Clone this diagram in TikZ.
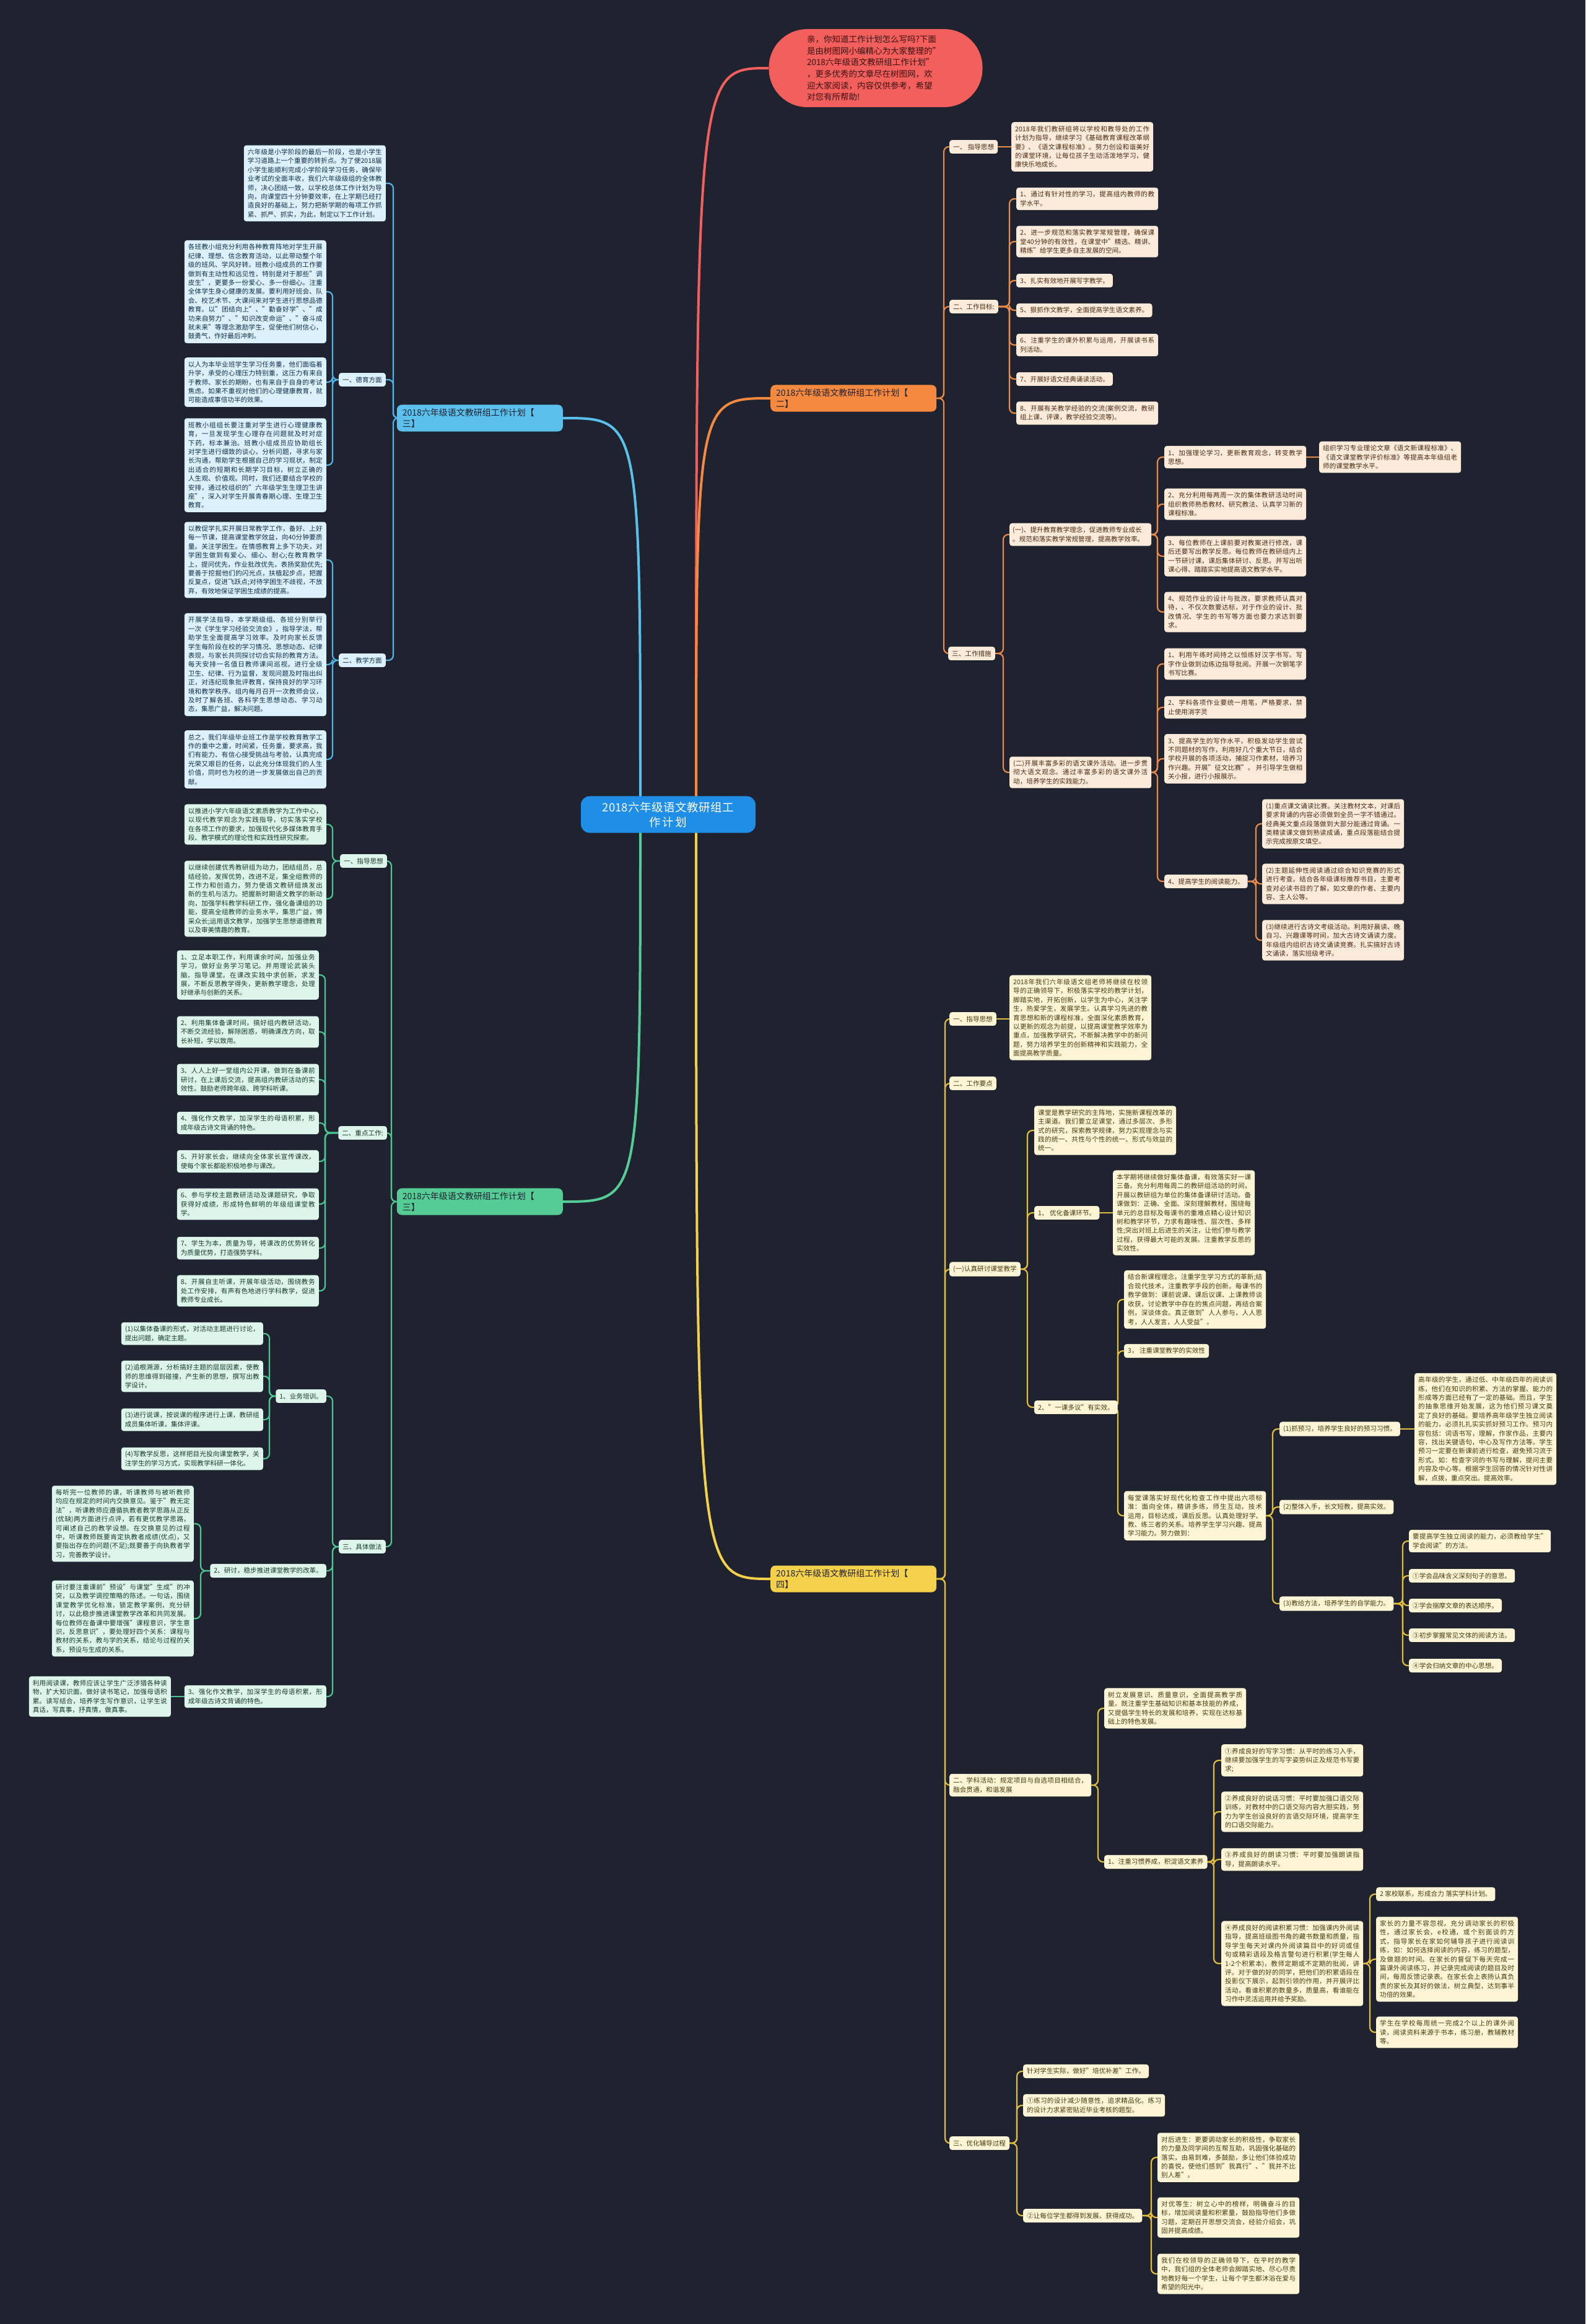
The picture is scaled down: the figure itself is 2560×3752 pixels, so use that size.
\documentclass[tikz,border=0pt]{standalone}
\usepackage{fontspec}
\setmainfont{Noto Sans CJK SC}
\XeTeXlinebreaklocale "zh"
\XeTeXlinebreakskip=0pt plus 1pt
\usetikzlibrary{calc}
\pgfdeclarelayer{bgl}\pgfdeclarelayer{lnl}\pgfsetlayers{bgl,lnl,main}
\definecolor{bgc}{HTML}{1F2330}
\definecolor{redc}{HTML}{F25F5C}
\definecolor{bubtxt}{HTML}{3A1212}
\definecolor{rootc}{HTML}{1E8EE6}
\definecolor{oc}{HTML}{F5893F}\definecolor{of}{HTML}{FCEBDA}\definecolor{ot}{HTML}{4A2A12}\definecolor{ol}{HTML}{EC8A48}
\definecolor{bc}{HTML}{5CC0EC}\definecolor{bf}{HTML}{DCF1FB}\definecolor{bt}{HTML}{0F2E4A}\definecolor{bl}{HTML}{4FB5E6}
\definecolor{gc}{HTML}{55CB95}\definecolor{gf}{HTML}{DDF5EA}\definecolor{gt}{HTML}{173B2B}\definecolor{gl}{HTML}{4CC590}
\definecolor{yc}{HTML}{F5D04A}\definecolor{yf}{HTML}{FDF5D5}\definecolor{yt}{HTML}{473A0E}\definecolor{yl}{HTML}{E3BE3C}
\definecolor{brtxt}{HTML}{1E2230}
\newcommand\myconR[4]{\draw[#1] (#2.east) -- (#2.east -| #3) |- (#4.west);}
\newcommand\myconL[4]{\draw[#1] (#2.west) -- (#2.west -| #3) |- (#4.east);}
\begin{document}
\begin{tikzpicture}[x=1pt,y=-1pt,
  base/.style={font=\fontsize{10.6}{14.4}\selectfont, inner xsep=6pt, inner ysep=6pt, rounded corners=4pt},
  tw/.style={text width=217pt, align=justify},
  oN/.style={base, fill=of, text=ot, anchor=west},
  bN/.style={base, fill=bf, text=bt, anchor=east},
  gN/.style={base, fill=gf, text=gt, anchor=east},
  yN/.style={base, fill=yf, text=yt, anchor=west},
  brN/.style={font=\fontsize{14}{18}\selectfont, text=brtxt, text width=250pt, align=left, inner xsep=9pt, inner ysep=6pt, rounded corners=8pt},
  con/.style={rounded corners=8pt, line width=2.2pt},
  ocon/.style={con, draw=ol}, bcon/.style={con, draw=bl}, gcon/.style={con, draw=gl}, ycon/.style={con, draw=yl},
  mline/.style={line width=4pt}
]
\begin{pgfonlayer}{bgl}
\fill[bgc] (0,0) rectangle (2560,3752);
\end{pgfonlayer}
\useasboundingbox (0,0) rectangle (2560,3752);

% root and bubble
\node[fill=rootc, text=white, font=\fontsize{18.5}{24}\selectfont, rounded corners=14pt, text width=250pt, align=center, inner xsep=16pt, inner ysep=9pt] (root) at (1079,1315) {2018六年级语文教研组工\\作计划};
\node[fill=redc, text=bubtxt, rounded corners=62pt, minimum width=345pt, minimum height=126pt, font=\fontsize{13.5}{18.7}\selectfont, text width=222pt, align=left] (bub) at (1414,110) {亲，你知道工作计划怎么写吗?下面\\是由树图网小编精心为大家整理的"\\2018六年级语文教研组工作计划"\\，更多优秀的文章尽在树图网，欢\\迎大家阅读，内容仅供参考，希望\\对您有所帮助!};

% branch nodes
\node[brN, fill=oc, anchor=west] (oB) at (1244,643) {2018六年级语文教研组工作计划【\\二】};
\node[brN, fill=bc, anchor=east] (bB) at (909,675) {2018六年级语文教研组工作计划【\\三】};
\node[brN, fill=gc, anchor=east] (gB) at (909,1940) {2018六年级语文教研组工作计划【\\三】};
\node[brN, fill=yc, anchor=west] (yB) at (1244,2549) {2018六年级语文教研组工作计划【\\四】};

% ===== ORANGE =====
\node[oN] (o1) at (1533,237) {一、 指导思想};
\node[oN,tw] (o1a) at (1633,237) {2018年我们教研组将以学校和教导处的工作计划为指导，继续学习《基础教育课程改革纲要》、《语文课程标准》。努力创设和谐美好的课堂环境，让每位孩子生动活泼地学习，健康快乐地成长。};
\node[oN] (o2) at (1533,495) {二、工作目标:};
\node[oN,tw] (o2a) at (1641,321) {1、通过有针对性的学习，提高组内教师的教学水平。};
\node[oN,tw] (o2b) at (1641,390) {2、进一步规范和落实教学常规管理，确保课堂40分钟的有效性，在课堂中"精选、精讲、精炼"给学生更多自主发展的空间。};
\node[oN] (o2c) at (1641,453) {3、扎实有效地开展写字教学。};
\node[oN] (o2d) at (1641,501) {5、狠抓作文教学，全面提高学生语文素养。};
\node[oN,tw] (o2e) at (1641,557) {6、注重学生的课外积累与运用，开展读书系列活动。};
\node[oN] (o2f) at (1641,612) {7、开展好语文经典诵读活动。};
\node[oN,tw] (o2g) at (1641,667) {8、开展有关教学经验的交流(案例交流，教研组上课、评课，教学经验交流等)。};
\node[oN] (o3) at (1531,1055) {三、工作措施};
\node[oN,text width=219pt,align=left,inner xsep=5pt] (o3a) at (1630,863) {(一)、提升教育教学理念，促进教师专业成长\\。规范和落实教学常规管理，提高教学效率。};
\node[oN,tw] (o3b) at (1630,1247) {(二)开展丰富多彩的语文课外活动。进一步贯彻大语文观念。通过丰富多彩的语文课外活动，培养学生的实践能力。};
\node[oN,tw] (o3a1) at (1880,738) {1、加强理论学习，更新教育观念，转变教学思想。};
\node[oN,tw] (o3a1x) at (2130,738) {组织学习专业理论文章《语文新课程标准》、《语文课堂教学评价标准》等提高本年级组老师的课堂教学水平。};
\node[oN,tw] (o3a2) at (1880,814) {2、充分利用每两周一次的集体教研活动时间组织教师熟悉教材、研究教法、认真学习新的课程标准。};
\node[oN,tw] (o3a3) at (1880,898) {3、每位教师在上课前要对教案进行修改，课后还要写出教学反思。每位教师在教研组内上一节研讨课，课后集体研讨、反思。并写出听课心得、踏踏实实地提高语文教学水平。};
\node[oN,tw] (o3a4) at (1880,988) {4、规范作业的设计与批改，要求教师认真对待，、不仅次数要达标，对于作业的设计、批改情况、学生的书写等方面也要力求达到要求。};
\node[oN,tw] (o3b1) at (1880,1072) {1、利用午练时间持之以恒练好汉字书写。写字作业做到边练边指导批阅。开展一次钢笔字书写比赛。};
\node[oN,tw] (o3b2) at (1880,1142) {2、学科各项作业要统一用笔，严格要求，禁止使用消字灵};
\node[oN,tw] (o3b3) at (1880,1225) {3、提高学生的写作水平，积极发动学生尝试不同题材的写作，利用好几个重大节日，结合学校开展的各项活动，捕捉习作素材，培养习作兴趣。开展"征文比赛"。 并引导学生做相关小报，进行小报展示。};
\node[oN] (o3b4) at (1880,1423) {4、提高学生的阅读能力。};
\node[oN,tw] (o3b4a) at (2038,1330) {(1)重点课文诵读比赛。关注教材文本，对课后要求背诵的内容必须做到全员一字不错通过。经典美文重点段落做到大部分能通过背诵。一类精读课文做到熟读成诵，重点段落能结合提示完成按原文填空。};
\node[oN,tw] (o3b4b) at (2038,1427) {(2)主题延伸性阅读通过综合知识竞赛的形式进行考查。结合各年级课标推荐书目，主要考查对必读书目的了解，如文章的作者、主要内容、主人公等。};
\node[oN,tw] (o3b4c) at (2038,1518) {(3)继续进行古诗文考级活动。利用好晨读、晚自习、兴趣课等时间，加大古诗文诵读力度。年级组内组织古诗文诵读竞赛。扎实搞好古诗文诵读，落实班级考评。};

% ===== BLUE =====
\node[bN,tw] (b0) at (623,296) {六年级是小学阶段的最后一阶段，也是小学生学习道路上一个重要的转折点。为了使2018届小学生能顺利完成小学阶段学习任务，确保毕业考试的全面丰收，我们六年级级组的全体教师，决心团结一致，以学校总体工作计划为导向，向课堂四十分钟要效率，在上学期已经打造良好的基础上，努力把新学期的每项工作抓紧、抓严、抓实，为此，制定以下工作计划。};
\node[bN] (b1) at (623,613) {一、德育方面};
\node[bN] (b2) at (623,1066) {二、教学方面};
\node[bN,tw] (d1) at (527,471) {各班教小组充分利用各种教育阵地对学生开展纪律、理想、信念教育活动，以此带动整个年级的班风、学风好转。班教小组成员的工作要做到有主动性和远见性，特别是对于那些"调皮生"，更要多一份爱心、多一份细心。注重全体学生身心健康的发展。要利用好班会、队会、校艺术节、大课间来对学生进行思想品德教育。以"团结向上"、"勤奋好学"、"成功来自努力"、"知识改变命运"、"奋斗成就未来"等理念激励学生，促使他们树信心，鼓勇气，作好最后冲刺。};
\node[bN,tw] (d2) at (527,617) {以人为本毕业班学生学习任务重，他们面临着升学，承受的心理压力特别重，这压力有来自于教师、家长的期盼，也有来自于自身的考试焦虑。如果不重视对他们的心理健康教育，就可能造成事倍功半的效果。};
\node[bN,tw] (d3) at (527,751) {班教小组组长要注重对学生进行心理健康教育，一旦发现学生心理存在问题就及时对症下药，标本兼治。班教小组成员应协助组长对学生进行细致的谈心，分析问题，寻求与家长沟通，帮助学生根据自己的学习现状，制定出适合的短期和长期学习目标，树立正确的人生观、价值观。同时，我们还要结合学校的安排，通过校组织的"六年级学生生理卫生讲座"，深入对学生开展青春期心理、生理卫生教育。};
\node[bN,tw] (t1) at (527,904) {以教促学扎实开展日常教学工作，备好、上好每一节课，提高课堂教学效益，向40分钟要质量。关注学困生。在情感教育上多下功夫，对学困生做到有爱心、细心、耐心;在教育教学上，提问优先，作业批改优先，表扬奖励优先;要善于挖掘他们的闪光点，扶植起步点，把握反复点，促进飞跃点;对待学困生不歧视，不放弃，有效地保证学困生成绩的提高。};
\node[bN,tw] (t2) at (527,1073) {开展学法指导，本学期级组、各班分别举行一次《学生学习经验交流会》，指导学法，帮助学生全面提高学习效率。及时向家长反馈学生每阶段在校的学习情况、思想动态、纪律表现，与家长共同探讨切合实际的教育方法。每天安排一名值日教师课间巡视，进行全级卫生、纪律、行为监督，发现问题及时指出纠正，对违纪现象批评教育，保持良好的学习环境和教学秩序。组内每月召开一次教师会议，及时了解各班、各科学生思想动态、学习动态，集思广益，解决问题。};
\node[bN,tw] (t3) at (527,1226) {总之，我们年级毕业班工作是学校教育教学工作的重中之重，时间紧，任务重，要求高，我们有能力、有信心接受挑战与考验，认真完成光荣又艰巨的任务，以此充分体现我们的人生价值，同时也为校的进一步发展做出自己的贡献。};

% ===== GREEN =====
\node[gN] (g1) at (625,1390) {一、指导思想};
\node[gN,tw] (g1a) at (527,1331) {以推进小学六年级语文素质教学为工作中心，以现代教学观念为实践指导，切实落实学校在各项工作的要求，加强现代化多媒体教育手段、教学模式的理论性和实践性研究探索。};
\node[gN,tw] (g1b) at (527,1451) {以继续创建优秀教研组为动力，团结组员，总结经验，发挥优势，改进不足，集全组教师的工作力和创造力，努力使语文教研组焕发出新的生机与活力。把握新时期语文教学的新动向，加强学科教学科研工作，强化备课组的功能，提高全组教师的业务水平，集思广益，博采众长;运用语文教学，加强学生思想道德教育以及审美情趣的教育。};
\node[gN] (g2) at (625,1829) {二、重点工作:};
\node[gN,tw] (k1) at (515,1574) {1、立足本职工作，利用课余时间，加强业务学习，做好业务学习笔记。并用理论武装头脑，指导课堂。在课改实践中求创新，求发展，不断反思教学得失，更新教学理念，处理好继承与创新的关系。};
\node[gN,tw] (k2) at (515,1666) {2、利用集体备课时间，搞好组内教研活动，不断交流经验，解除困惑，明确课改方向，取长补短，学以致用。};
\node[gN,tw] (k3) at (515,1743) {3、人人上好一堂组内公开课，做到在备课前研讨，在上课后交流，提高组内教研活动的实效性。鼓励老师跨年级、跨学科听课。};
\node[gN,tw] (k4) at (515,1813) {4、强化作文教学，加深学生的母语积累，形成年级古诗文背诵的特色。};
\node[gN,tw] (k5) at (515,1875) {5、开好家长会，继续向全体家长宣传课改，使每个家长都能积极地参与课改。};
\node[gN,tw] (k6) at (515,1944) {6、参与学校主题教研活动及课题研究，争取获得好成绩，形成特色鲜明的年级组课堂教学。};
\node[gN,tw] (k7) at (515,2015) {7、学生为本，质量为导，将课改的优势转化为质量优势，打造强势学科。};
\node[gN,tw] (k8) at (515,2084) {8、开展自主听课，开展年级活动，围绕教务处工作安排，有声有色地进行学科教学，促进教师专业成长。};
\node[gN] (g3) at (623,2497) {三、具体做法};
\node[gN] (s1) at (527,2254) {1、业务培训。};
\node[gN,tw] (s1a) at (425,2153) {(1)以集体备课的形式，对活动主题进行讨论，提出问题，确定主题。};
\node[gN,tw] (s1b) at (425,2222) {(2)追根溯源，分析搞好主题的层层因素，使教师的思维得到碰撞，产生新的思想，撰写出教学设计。};
\node[gN,tw] (s1c) at (425,2292) {(3)进行说课，按说课的程序进行上课，教研组成员集体听课，集体评课。};
\node[gN,tw] (s1d) at (425,2355) {(4)写教学反思，这样把目光投向课堂教学，关注学生的学习方式，实现教学科研一体化。};
\node[gN] (s2) at (527,2536) {2、研讨，稳步推进课堂教学的改革。};
\node[gN,tw] (s2a) at (313,2460) {每听完一位教师的课，听课教师与被听教师均应在规定的时间内交换意见。鉴于"教无定法"，听课教师应遵循执教者教学思路从正反(优缺)两方面进行点评，若有更优教学思路，可阐述自己的教学设想。在交换意见的过程中，听课教师既要肯定执教者成绩(优点)，又要指出存在的问题(不足);既要善于向执教者学习，完善教学设计。};
\node[gN,tw] (s2b) at (313,2613) {研讨要注重课前"预设"与课堂"生成"的冲突，以及教学调控策略的陈述。一句话，围绕课堂教学优化标准，锁定教学案例，充分研讨，以此稳步推进课堂教学改革和共同发展。每位教师在备课中要增强"课程意识，学生意识，反思意识"，要处理好四个关系：课程与教材的关系，教与学的关系，结论与过程的关系，预设与生成的关系。};
\node[gN,tw] (s3) at (527,2739) {3、强化作文教学，加深学生的母语积累，形成年级古诗文背诵的特色。};
\node[gN,tw] (s3a) at (276,2739) {利用阅读课，教师应该让学生广泛涉猎各种读物，扩大知识面。做好读书笔记，加强母语积累。读写结合，培养学生写作意识，让学生说真话，写真事，抒真情，做真事。};

% ===== YELLOW =====
\node[yN] (y1) at (1533,1645) {一、指导思想};
\node[yN,tw] (y1a) at (1630,1643) {2018年我们六年级语文组老师将继续在校领导的正确领导下，积极落实学校的教学计划，脚踏实地，开拓创新，以学生为中心，关注学生，热爱学生，发展学生。认真学习先进的教育思想和新的课程标准，全面深化素质教育，以更新的观念为前提，以提高课堂教学效率为重点，加强教学研究，不断解决教学中的新问题，努力培养学生的创新精神和实践能力，全面提高教学质量。};
\node[yN] (y2) at (1533,1749) {二、工作要点};
\node[yN] (y3) at (1533,2049) {(一)认真研讨课堂教学};
\node[yN,tw] (c1) at (1670,1825) {课堂是教学研究的主阵地，实施新课程改革的主渠道。我们要立足课堂，通过多层次、多形式的研究，探索教学规律，努力实现理念与实践的统一、共性与个性的统一、形式与效益的统一。};
\node[yN] (c2) at (1670,1958) {1、 优化备课环节。};
\node[yN,tw] (c2a) at (1797,1958) {本学期将继续做好集体备课，有效落实好一课三备。充分利用每周二的教研组活动的时间，开展以教研组为单位的集体备课研讨活动。备课做到：正确、全面、深刻理解教材，围绕每单元的总目标及每课书的重难点精心设计知识树和教学环节，力求有趣味性、层次性、多样性;突出对班上后进生的关注，让他们参与教学过程，获得最大可能的发展。注重教学反思的实效性。};
\node[yN] (c3) at (1670,2272) {2、"一课多议"有实效。};
\node[yN,tw] (c3a) at (1815,2098) {结合新课程理念，注重学生学习方式的革新;结合现代技术，注重教学手段的创新。每课书的教学做到：课前说课、课后议课、上课教师谈收获，讨论教学中存在的焦点问题，再结合案例，深谈体会。真正做到"人人参与，人人思考，人人发言，人人受益"。};
\node[yN] (c3b) at (1815,2181) {3， 注重课堂教学的实效性};
\node[yN,tw] (c3c) at (1815,2447) {每堂课落实好现代化检查工作中提出六项标准：面向全体，精讲多练，师生互动，技术运用，目标达成，课后反思。认真处理好学、教、练三者的关系。培养学生学习兴趣、提高学习能力。努力做到：};
\node[yN] (p1) at (2066,2307) {(1)抓预习，培养学生良好的预习习惯。};
\node[yN,tw] (p1a) at (2284,2307) {高年级的学生，通过低、中年级四年的阅读训练，他们在知识的积累、方法的掌握、能力的形成等方面已经有了一定的基础。而且，学生的抽象思维开始发展，这为他们预习课文奠定了良好的基础。要培养高年级学生独立阅读的能力，必须扎扎实实抓好预习工作。预习内容包括：词语书写，理解，作家作品，主要内容，找出关键语句，中心及写作方法等。学生预习一定要在新课前进行检查，避免预习流于形式。如：检查字词的书写与理解，提问主要内容及中心等。根据学生回答的情况针对性讲解，点拨，重点突出。提高效率。};
\node[yN] (p2) at (2066,2433) {(2)整体入手，长文短教，提高实效。};
\node[yN] (p3) at (2066,2589) {(3)教给方法，培养学生的自学能力。};
\node[yN,tw] (r0) at (2275,2488) {要提高学生独立阅读的能力，必须教给学生"学会阅读"的方法。};
\node[yN] (r1) at (2275,2544) {①学会品味含义深刻句子的意思。};
\node[yN] (r2) at (2275,2592) {②学会揣摩文章的表达顺序。};
\node[yN] (r3) at (2275,2640) {③初步掌握常见文体的阅读方法。};
\node[yN] (r4) at (2275,2689) {④学会归纳文章的中心思想。};
\node[yN,tw] (y4) at (1533,2882) {二、学科活动：规定项目与自选项目相结合，融会贯通，和谐发展};
\node[yN,tw] (y4a) at (1783,2758) {树立发展意识、质量意识，全面提高教学质量。既注重学生基础知识和基本技能的养成，又提倡学生特长的发展和培养，实现在达标基础上的特色发展。};
\node[yN] (y4b) at (1783,3006) {1、注重习惯养成，积淀语文素养};
\node[yN,tw] (h1) at (1972,2842) {①养成良好的写字习惯：从平时的练习入手，继续要加强学生的写字姿势纠正及规范书写要求;};
\node[yN,tw] (h2) at (1972,2925) {②养成良好的说话习惯：平时要加强口语交际训练，对教材中的口语交际内容大胆实践，努力为学生创设良好的言语交际环境，提高学生的口语交际能力。};
\node[yN,tw] (h3) at (1972,3002) {③养成良好的朗读习惯：平时要加强朗读指导，提高朗读水平。};
\node[yN,tw] (h4) at (1972,3170) {④养成良好的阅读积累习惯：加强课内外阅读指导，提高班级图书角的藏书数量和质量，指导学生每天对课内外阅读篇目中的好词或佳句或精彩语段及格言警句进行积累(学生每人1-2个积累本)，教师定期或不定期的批阅，讲评。对于做的好的同学，把他们的积累语段在投影仪下展示，起到引领的作用，并开展评比活动，看谁积累的数量多，质量高，看谁能在习作中灵活运用并给予奖励。};
\node[yN] (j1) at (2222,3058) {2 家校联系，形成合力 落实学科计划。};
\node[yN,tw] (j2) at (2222,3163) {家长的力量不容忽视，充分调动家长的积极性，通过家长会，e校通，或个别面谈的方式，指导家长在家如何辅导孩子进行阅读训练，如：如何选择阅读的内容，练习的题型，及做题的时间。在家长的督促下每天完成一篇课外阅读练习，并记录完成阅读的题目及时间，每周反馈记录表。在家长会上表扬认真负责的家长及其好的做法，树立典型，达到事半功倍的效果。};
\node[yN,tw] (j3) at (2222,3281) {学生在学校每周统一完成2个以上的课外阅读，阅读资料来源于书本，练习册，教辅教材等。};
\node[yN] (y5) at (1533,3460) {三、优化辅导过程};
\node[yN] (f1) at (1652,3344) {针对学生实际，做好"培优补差"工作。};
\node[yN,tw] (f2) at (1652,3399) {①练习的设计减少随意性，追求精品化。练习的设计力求紧密贴近毕业考核的题型。};
\node[yN] (f3) at (1652,3577) {②让每位学生都得到发展、获得成功。};
\node[yN,tw] (f3a) at (1869,3483) {对后进生：更要调动家长的积极性，争取家长的力量及同学间的互帮互助，巩固强化基础的落实，由易到难，多鼓励，多让他们体验成功的喜悦，使他们感到"我真行"、"我并不比别人差"。};
\node[yN,tw] (f3b) at (1869,3580) {对优等生：树立心中的榜样，明确奋斗的目标，增加阅读量和积累量，鼓励指导他们多做习题，定期召开思想交流会，经验介绍会，巩固并提高成绩。};
\node[yN,tw] (f3c) at (1869,3671) {我们在校领导的正确领导下，在平时的教学中，我们组的全体老师会脚踏实地、尽心尽责地教好每一个学生，让每个学生都沐浴在爱与希望的阳光中。};

% spine coordinates
\coordinate (sO) at (1524,0); \coordinate (sO2) at (1630,0); \coordinate (sO3) at (1620,0);
\coordinate (sO3a) at (1869,0); \coordinate (sO3b4) at (2028,0);
\coordinate (sB) at (635,0); \coordinate (sB1) at (537,0);
\coordinate (sG) at (632,0); \coordinate (sG1) at (537,0); \coordinate (sG2) at (525,0);
\coordinate (sS1) at (435,0); \coordinate (sS2) at (324,0);
\coordinate (sY) at (1526,0); \coordinate (sY3) at (1659,0); \coordinate (sC3) at (1805,0);
\coordinate (sC3c) at (2055,0); \coordinate (sP3) at (2265,0); \coordinate (sY4) at (1773,0);
\coordinate (sY4b) at (1960,0); \coordinate (sH4) at (2212,0); \coordinate (sY5) at (1642,0); \coordinate (sF3) at (1859,0);
\coordinate (rR) at ($(root.center)+(45,0)$);
\coordinate (rL) at ($(root.center)+(-45,0)$);

\begin{pgfonlayer}{lnl}
% root curves
\draw[mline, redc] (rR) .. controls (rR |- bub.west) .. (bub.west);
\draw[mline, oc] (rR) .. controls (rR |- oB.west) .. (oB.west);
\draw[mline, yc] (rR) .. controls (rR |- yB.west) .. (yB.west);
\draw[mline, bc] (rL) .. controls (rL |- bB.east) .. (bB.east);
\draw[mline, gc] (rL) .. controls (rL |- gB.east) .. (gB.east);
% orange
\foreach \c in {o1,o2,o3} {\myconR{ocon}{oB}{sO}{\c}}
\draw[ocon] (o1.east) -- (o1.east -| o1a.west);
\foreach \c in {o2a,o2b,o2c,o2d,o2e,o2f,o2g} {\myconR{ocon}{o2}{sO2}{\c}}
\foreach \c in {o3a,o3b} {\myconR{ocon}{o3}{sO3}{\c}}
\foreach \c in {o3a1,o3a2,o3a3,o3a4} {\myconR{ocon}{o3a}{sO3a}{\c}}
\foreach \c in {o3b1,o3b2,o3b3,o3b4} {\myconR{ocon}{o3b}{sO3a}{\c}}
\draw[ocon] (o3a1.east) -- (o3a1.east -| o3a1x.west);
\foreach \c in {o3b4a,o3b4b,o3b4c} {\myconR{ocon}{o3b4}{sO3b4}{\c}}
% blue
\foreach \c in {b0,b1,b2} {\myconL{bcon}{bB}{sB}{\c}}
\foreach \c in {d1,d2,d3} {\myconL{bcon}{b1}{sB1}{\c}}
\foreach \c in {t1,t2,t3} {\myconL{bcon}{b2}{sB1}{\c}}
% green
\foreach \c in {g1,g2,g3} {\myconL{gcon}{gB}{sG}{\c}}
\foreach \c in {g1a,g1b} {\myconL{gcon}{g1}{sG1}{\c}}
\foreach \c in {k1,k2,k3,k4,k5,k6,k7,k8} {\myconL{gcon}{g2}{sG2}{\c}}
\foreach \c in {s1,s2,s3} {\myconL{gcon}{g3}{sG1}{\c}}
\foreach \c in {s1a,s1b,s1c,s1d} {\myconL{gcon}{s1}{sS1}{\c}}
\foreach \c in {s2a,s2b} {\myconL{gcon}{s2}{sS2}{\c}}
\draw[gcon] (s3.west) -- (s3.west -| s3a.east);
% yellow
\foreach \c in {y1,y2,y3,y4,y5} {\myconR{ycon}{yB}{sY}{\c}}
\draw[ycon] (y1.east) -- (y1.east -| y1a.west);
\foreach \c in {c1,c2,c3} {\myconR{ycon}{y3}{sY3}{\c}}
\draw[ycon] (c2.east) -- (c2.east -| c2a.west);
\foreach \c in {c3a,c3b,c3c} {\myconR{ycon}{c3}{sC3}{\c}}
\foreach \c in {p1,p2,p3} {\myconR{ycon}{c3c}{sC3c}{\c}}
\draw[ycon] (p1.east) -- (p1.east -| p1a.west);
\foreach \c in {r0,r1,r2,r3,r4} {\myconR{ycon}{p3}{sP3}{\c}}
\foreach \c in {y4a,y4b} {\myconR{ycon}{y4}{sY4}{\c}}
\foreach \c in {h1,h2,h3,h4} {\myconR{ycon}{y4b}{sY4b}{\c}}
\foreach \c in {j1,j2,j3} {\myconR{ycon}{h4}{sH4}{\c}}
\foreach \c in {f1,f2,f3} {\myconR{ycon}{y5}{sY5}{\c}}
\foreach \c in {f3a,f3b,f3c} {\myconR{ycon}{f3}{sF3}{\c}}
\end{pgfonlayer}
\end{tikzpicture}
\end{document}
